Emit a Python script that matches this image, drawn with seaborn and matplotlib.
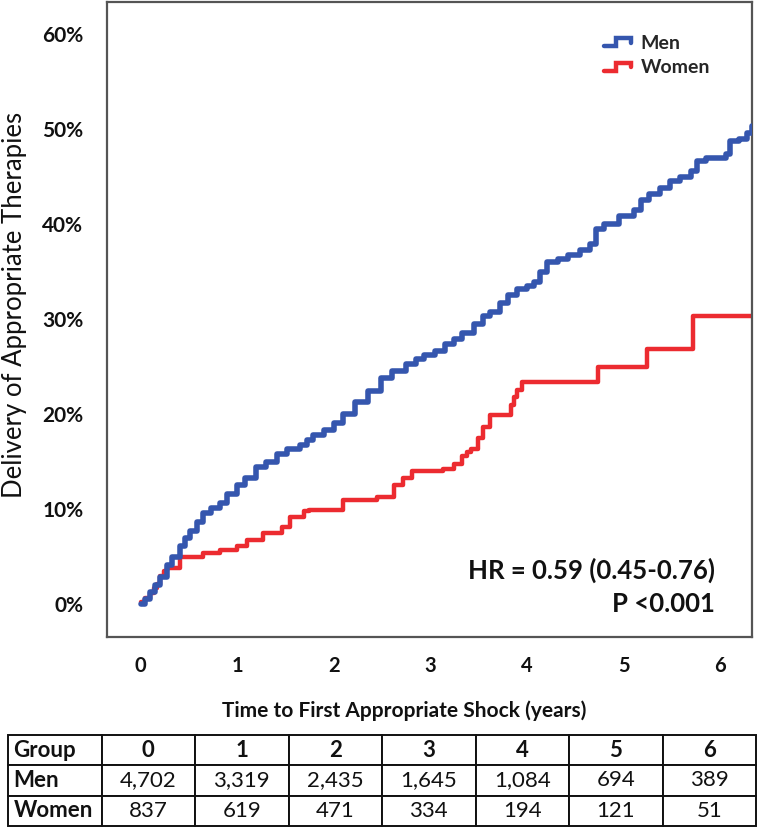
import numpy as np
import pandas as pd
import seaborn as sns
import matplotlib
matplotlib.use("Agg")
import matplotlib.pyplot as plt
from matplotlib.lines import Line2D
from matplotlib.legend_handler import HandlerLine2D

# ---------------- data ----------------
men_t = [0.00, 0.05, 0.10, 0.15, 0.20, 0.27, 0.33, 0.41, 0.46, 0.51, 0.58, 0.65,
         0.73, 0.82, 0.90, 1.00, 1.08, 1.20, 1.30, 1.41, 1.52, 1.65, 1.72, 1.79,
         1.90, 2.00, 2.10, 2.22, 2.35, 2.49, 2.60, 2.75, 2.85, 2.93, 3.05, 3.15,
         3.25, 3.33, 3.45, 3.55, 3.62, 3.72, 3.80, 3.90, 4.00, 4.07, 4.14, 4.21,
         4.32, 4.43, 4.55, 4.65, 4.71, 4.80, 4.95, 5.11, 5.18, 5.26, 5.38, 5.48,
         5.58, 5.70, 5.76, 5.85, 6.06, 6.10, 6.20, 6.28, 6.33]
men_pct = [0.0, 0.6, 1.3, 2.1, 2.9, 4.1, 5.0, 6.1, 7.0, 7.7, 8.7, 9.6,
           10.1, 10.7, 11.6, 12.6, 13.3, 14.5, 15.0, 15.8, 16.3, 16.8, 17.3, 17.8,
           18.4, 19.1, 20.0, 21.3, 22.5, 23.8, 24.6, 25.3, 25.8, 26.2, 26.7, 27.4,
           27.9, 28.5, 29.5, 30.3, 30.8, 31.7, 32.5, 33.2, 33.5, 33.9, 35.0, 36.0,
           36.3, 36.8, 37.3, 37.9, 39.5, 40.0, 40.9, 41.5, 42.5, 43.2, 43.8, 44.5,
           45.0, 45.6, 46.6, 47.0, 47.4, 48.7, 49.0, 49.6, 50.3]

women_t = [0.00, 0.05, 0.10, 0.14, 0.17, 0.20, 0.24, 0.27, 0.41, 0.65, 0.82, 1.00,
           1.10, 1.27, 1.46, 1.55, 1.69, 1.74, 2.10, 2.45, 2.62, 2.72, 2.81, 3.13,
           3.25, 3.33, 3.38, 3.42, 3.49, 3.55, 3.62, 3.84, 3.87, 3.90, 3.95, 4.74,
           5.24, 5.72, 6.33]
women_pct = [0.3, 0.7, 1.2, 1.7, 2.2, 3.0, 3.5, 3.8, 5.0, 5.4, 5.7, 6.1,
             6.8, 7.5, 8.2, 9.2, 9.8, 9.9, 11.0, 11.3, 12.6, 13.3, 14.0, 14.3,
             14.8, 15.6, 16.0, 16.4, 17.5, 18.7, 19.9, 21.0, 21.8, 22.6, 23.4, 25.0,
             26.9, 30.3, 30.3]

group_labels = ["Men", "Women"]
year_ticks = [0, 1, 2, 3, 4, 5, 6]
y_ticks = [0, 10, 20, 30, 40, 50, 60]
men_at_risk = ["4,702", "3,319", "2,435", "1,645", "1,084", "694", "389"]
women_at_risk = ["837", "619", "471", "334", "194", "121", "51"]

# ---------------- style ----------------
sns.set_theme(style="white")
plt.rcParams["font.family"] = ["Lato", "DejaVu Sans"]

BLUE = "#3556AE"
RED = "#EC2B30"
SPINE = "#555555"

fig = plt.figure(figsize=(7.67, 8.27), dpi=100)
ax = fig.add_axes([107 / 767, 1 - 637 / 827, 645 / 767, 635 / 827])

df = pd.concat([
    pd.DataFrame({"time": men_t, "pct": men_pct, "group": "Men"}),
    pd.DataFrame({"time": women_t, "pct": women_pct, "group": "Women"}),
])

sns.lineplot(data=df[df.group == "Men"], x="time", y="pct", ax=ax, color=BLUE,
             linewidth=4.0, drawstyle="steps-post", estimator=None, sort=True,
             legend=False, zorder=3)
sns.lineplot(data=df[df.group == "Women"], x="time", y="pct", ax=ax, color=RED,
             linewidth=3.2, drawstyle="steps-post", estimator=None, sort=True,
             legend=False, zorder=2)

ax.set_xlim(-0.347, 6.33)
ax.set_ylim(-3.42, 63.36)
ax.set_xticks(year_ticks)
ax.set_xticklabels([str(v) for v in year_ticks])
ax.set_yticks(y_ticks)
ax.set_yticklabels([f"{v}%" for v in y_ticks])

for s in ax.spines.values():
    s.set_color(SPINE)
    s.set_linewidth(1.6)

ax.tick_params(axis="x", direction="out", length=7, width=1.5, color="#333333",
               pad=7, labelsize=14.5)
ax.tick_params(axis="y", direction="out", length=5, width=1.5, color="#333333",
               pad=12, labelsize=15)
for lab in ax.get_xticklabels() + ax.get_yticklabels():
    lab.set_fontweight("bold")
    lab.set_color("#111111")

ax.set_xlabel("Time to First Appropriate Shock (years)", fontsize=15,
              fontweight="bold", color="#111111")
ax.xaxis.set_label_coords(0.46, -0.1)
ax.set_ylabel("Delivery of Appropriate Therapies", fontsize=18.5,
              color="#111111")
ax.yaxis.set_label_coords(-0.124, 0.523)

ax.text(0.943, 0.1055, "HR = 0.59 (0.45-0.76)", transform=ax.transAxes,
        ha="right", va="center", fontsize=18.5, fontweight="bold", color="#111111")
ax.text(0.943, 0.052, "P <0.001", transform=ax.transAxes,
        ha="right", va="center", fontsize=18.5, fontweight="bold", color="#111111")


class StepHandler(HandlerLine2D):
    def create_artists(self, legend, orig_handle, xdescent, ydescent, width,
                       height, fontsize, trans):
        x0 = -xdescent
        y0 = -ydescent
        xs = [x0, x0 + width * 0.45, x0 + width * 0.45, x0 + width, x0 + width]
        ys = [y0 + height * 0.2, y0 + height * 0.2, y0 + height * 0.8,
              y0 + height * 0.8, y0 + height * 0.45]
        ln = Line2D(xs, ys, color=orig_handle.get_color(),
                    linewidth=orig_handle.get_linewidth(),
                    solid_joinstyle="miter")
        ln.set_transform(trans)
        return [ln]


h_men = Line2D([], [], color=BLUE, linewidth=3.2)
h_women = Line2D([], [], color=RED, linewidth=3.2)
leg = ax.legend([h_men, h_women], group_labels, loc="upper right",
                bbox_to_anchor=(0.956, 0.97), frameon=False,
                handler_map={Line2D: StepHandler()}, handlelength=1.4,
                handletextpad=0.5, labelspacing=0.4, borderpad=0.2,
                prop={"weight": "bold", "size": 14})

# ---------------- at-risk table ----------------
tax = fig.add_axes([8 / 767, 1 - 826 / 827, 748 / 767, 91 / 827])
tax.axis("off")
cell_text = [["Group"] + [str(v) for v in year_ticks],
             ["Men"] + men_at_risk,
             ["Women"] + women_at_risk]
tbl = tax.table(cellText=cell_text, cellLoc="center", bbox=[0, 0, 1, 1])
tbl.auto_set_font_size(False)
for (r, c), cell in tbl.get_celld().items():
    cell.set_edgecolor("#111111")
    cell.set_linewidth(1.4)
    cell.set_facecolor("white")
    txt = cell.get_text()
    txt.set_fontsize(16)
    txt.set_color("#111111")
    if c == 0:
        cell._loc = "left"
        cell.PAD = 0.06
        txt.set_ha("left")
        txt.set_fontweight("bold")
    if r == 0:
        txt.set_fontweight("bold")

fig.savefig("out.png", dpi=100)
